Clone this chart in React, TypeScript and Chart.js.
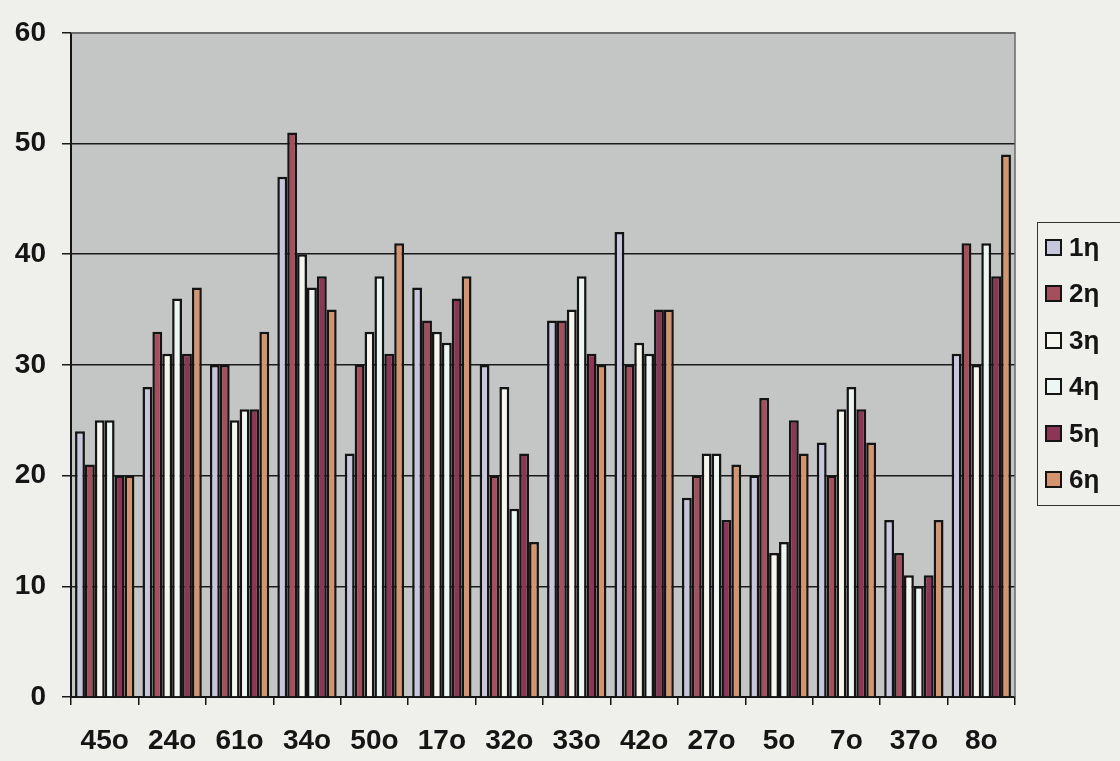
import { useEffect, useRef } from "react";
import { Chart, registerables } from "chart.js";

Chart.register(...registerables);

const categories = ["45ο", "24ο", "61ο", "34ο", "50ο", "17ο", "32ο", "33ο", "42ο", "27ο", "5ο", "7ο", "37ο", "8ο"];
const seriesLabels = ["1η", "2η", "3η", "4η", "5η", "6η"];
const series1 = [24, 28, 30, 47, 22, 37, 30, 34, 42, 18, 20, 23, 16, 31];
const series2 = [21, 33, 30, 51, 30, 34, 20, 34, 30, 20, 27, 20, 13, 41];
const series3 = [25, 31, 25, 40, 33, 33, 28, 35, 32, 22, 13, 26, 11, 30];
const series4 = [25, 36, 26, 37, 38, 32, 17, 38, 31, 22, 14, 28, 10, 41];
const series5 = [20, 31, 26, 38, 31, 36, 22, 31, 35, 16, 25, 26, 11, 38];
const series6 = [20, 37, 33, 35, 41, 38, 14, 30, 35, 21, 22, 23, 16, 49];
const yTicks = [0, 10, 20, 30, 40, 50, 60];

const seriesValues = [series1, series2, series3, series4, series5, series6];
const seriesColors = ["#c6c6dc", "#a4505c", "#f6f6ee", "#eef6f4", "#8c3656", "#d4946e"];

const FONT = "'Liberation Sans', Arial, sans-serif";
const TEXT = "#151515";

const plotBg = {
  id: "plotBg",
  beforeDraw(chart: any) {
    const { ctx, chartArea } = chart;
    ctx.save();
    ctx.fillStyle = "#c4c6c5";
    ctx.fillRect(chartArea.left, chartArea.top, chartArea.right - chartArea.left, chartArea.bottom - chartArea.top);
    ctx.restore();
  },
  afterDraw(chart: any) {
    const { ctx, chartArea } = chart;
    ctx.save();
    ctx.strokeStyle = "#6a6a6a";
    ctx.lineWidth = 1.5;
    ctx.beginPath();
    ctx.moveTo(chartArea.left, chartArea.top);
    ctx.lineTo(chartArea.right, chartArea.top);
    ctx.lineTo(chartArea.right, chartArea.bottom);
    ctx.stroke();
    ctx.restore();
  },
};

export default function App() {
  const ref = useRef<HTMLCanvasElement>(null);

  useEffect(() => {
    if (!ref.current) return;
    const chart = new Chart(ref.current, {
      type: "bar",
      data: {
        labels: categories,
        datasets: seriesLabels.map((label, i) => ({
          label,
          data: seriesValues[i],
          backgroundColor: seriesColors[i],
          borderColor: "#141414",
          borderWidth: 2.5,
          categoryPercentage: 0.88,
          barPercentage: 1,
        })),
      },
      options: {
        responsive: false,
        animation: false,
        layout: { padding: { left: 0, top: 24, right: 105, bottom: 0 } },
        plugins: {
          legend: { display: false },
          tooltip: { enabled: false },
        },
        scales: {
          x: {
            afterFit: (scale: any) => {
              scale.height = 64;
            },
            grid: {
              display: true,
              drawOnChartArea: false,
              drawTicks: true,
              tickLength: 8,
              color: "#151515",
              lineWidth: 1.5,
            },
            border: { display: true, color: "#151515", width: 2 },
            ticks: {
              color: TEXT,
              padding: 19,
              font: { family: FONT, size: 28, weight: "bold" },
              maxRotation: 0,
              autoSkip: false,
            },
          },
          y: {
            min: 0,
            max: 60,
            afterFit: (scale: any) => {
              scale.width = 71;
            },
            afterBuildTicks: (scale: any) => {
              scale.ticks = yTicks.map((v) => ({ value: v }));
            },
            grid: {
              color: "#1a1a1a",
              lineWidth: 1.5,
              tickLength: 9,
            },
            border: { display: true, color: "#151515", width: 2 },
            ticks: {
              color: TEXT,
              padding: 16,
              font: { family: FONT, size: 28, weight: "bold" },
            },
          },
        },
      },
      plugins: [plotBg],
    });
    return () => chart.destroy();
  }, []);

  return (
    <div
      style={{
        position: "fixed",
        left: 0,
        top: 0,
        width: 1120,
        height: 761,
        background: "#efefec",
        overflow: "hidden",
      }}
    >
      <canvas ref={ref} width={1120} height={761} style={{ display: "block" }} />
      <div
        style={{
          position: "absolute",
          left: 1037,
          top: 222,
          width: 100,
          height: 284,
          border: "1.5px solid #333",
          boxSizing: "border-box",
          fontFamily: FONT,
          fontWeight: "bold",
          fontSize: 26,
          color: TEXT,
        }}
      >
        {seriesLabels.map((label, i) => (
          <div
            key={label}
            style={{
              position: "absolute",
              left: 7,
              top: 8 + i * 46.5,
              height: 32,
              display: "flex",
              alignItems: "center",
              whiteSpace: "nowrap",
            }}
          >
            <span
              style={{
                display: "inline-block",
                width: 13,
                height: 13,
                background: seriesColors[i],
                border: "2.5px solid #141414",
                marginRight: 7,
              }}
            />
            <span>{label}</span>
          </div>
        ))}
      </div>
    </div>
  );
}
